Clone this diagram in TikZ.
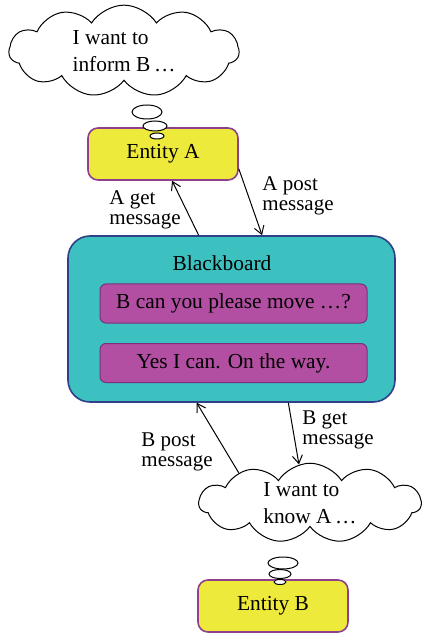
\documentclass[tikz,border=0pt]{standalone}
\usepackage{fontspec}
\setmainfont{Liberation Serif}
\usepackage{tikz}
\usetikzlibrary{shapes.geometric}
\usetikzlibrary{shapes.symbols}
\usetikzlibrary{calc}
\usetikzlibrary{arrows.meta}
\definecolor{entyellow}{HTML}{EEEA3C}
\definecolor{entborder}{HTML}{8E3F8E}
\definecolor{boardteal}{HTML}{3CC0C0}
\definecolor{boardborder}{HTML}{2F3F8A}
\definecolor{msgpurple}{HTML}{B24FA2}
\definecolor{msgborder}{HTML}{7D2F7D}
\tikzset{
every picture/.style={line width=0.5pt, >={Straight Barb[length=4pt,width=5pt]},
                       font=\fontsize{10.7}{10}\selectfont},
%%%%%%%%%%  Node styles
entity/.style={rounded corners=5pt, draw=entborder, fill=entyellow, thick,
               minimum width=75pt, minimum height=26pt},
board/.style={rounded corners=11pt, draw=boardborder, fill=boardteal, thick,
              minimum width=163.5pt, minimum height=83pt},
msgbox/.style={rounded corners=3pt, draw=msgborder, fill=msgpurple,
               minimum width=133.5pt, minimum height=19.5pt},
thought/.style={cloud, cloud puffs=11, cloud puff arc=115, draw, fill=white,
                aspect=2.6, align=left, inner sep=0pt,
                font=\fontsize{10.7}{13.5}\selectfont},
bubble/.style={ellipse, draw, fill=white, inner sep=0pt},
%%%%%%% labels on the connectors
msglabel/.style={align=left, font=\fontsize{10.5}{10.2}\selectfont},
}

\begin{document}
\begin{tikzpicture}[x=0.5pt, y=-0.5pt]
\useasboundingbox (0,0) rectangle (423,635);
%%%% entity A and its thought
\node[entity] (entA) at (163,154) {Entity A};
\node[thought, aspect=2.3, inner ysep=2pt, minimum width=115pt] (cloudA)
             at (124,51) {I want to\\inform B\,\ldots};
\node[bubble, minimum width=15pt, minimum height=7pt] (bubA1) at (147,112) {};
\node[bubble, minimum width=12pt, minimum height=5pt] (bubA2) at (155,126) {};
\node[bubble, minimum width=7pt, minimum height=3pt] (bubA3) at (157,136) {};
%%%% the blackboard
\node[board] (bb) at (231.5,319) {};
\node (bbtitle) at (222,263) {Blackboard};
\node[msgbox] (msg1) at (233.5,303.5) {B can you please move \ldots?};
\node[msgbox] (msg2) at (233.5,363) {Yes I can. On the way.};
%%%% entity B and its thought
\node[entity] (entB) at (273,606) {Entity B};
\node[thought, minimum width=111pt] (cloudB) at (310,503)
             {I want to\\know A\,\ldots};
\node[bubble, minimum width=15pt, minimum height=6pt] (bubB1) at (283,563) {};
\node[bubble, minimum width=11pt, minimum height=4.5pt] (bubB2) at (280,574) {};
\node[bubble, minimum width=6pt, minimum height=2.5pt] (bubB3) at (280,582) {};
%%%% posting and reading
\draw[->] ($(bb.north west)!0.4!(bb.north east)$)
          -- ($(entA.south west)!0.56!(entA.south east)$);
\draw[->] ($(entA.south east)+(0,-12)$)
          -- ($(bb.north west)!0.593!(bb.north east)$);
\draw[->] (cloudB.157) -- ($(bb.south west)!0.394!(bb.south east)$);
\draw[->] ($(bb.south west)!0.673!(bb.south east)$) -- (cloudB.106);
\node[msglabel] (lAget) at (145,210) {A get\\message};
\node[msglabel] (lApost) at (298,196) {A post\\message};
\node[msglabel] (lBpost) at (177,452) {B post\\message};
\node[msglabel] (lBget) at (338,430) {B get\\message};
\end{tikzpicture}
\end{document}
